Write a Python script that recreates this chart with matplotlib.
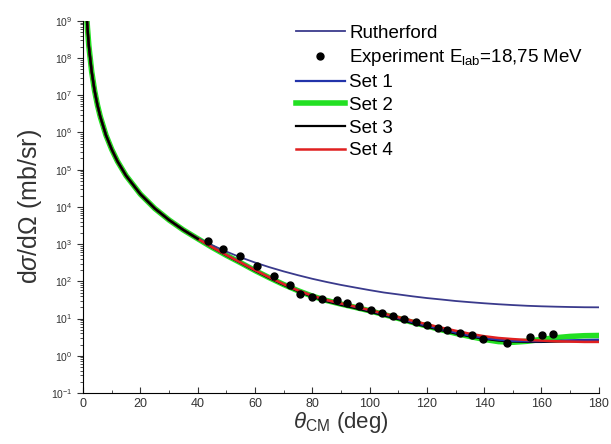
import matplotlib
matplotlib.use("Agg")
import matplotlib.pyplot as plt
import numpy as np
from matplotlib.ticker import LogLocator, LogFormatterMathtext, MultipleLocator, NullFormatter

plt.rcParams.update({
    "font.family": ["Liberation Sans", "DejaVu Sans"],
    "mathtext.fontset": "custom",
    "mathtext.rm": "Liberation Sans",
    "mathtext.it": "Liberation Sans:italic",
    "mathtext.bf": "Liberation Sans:bold",
})

# angles (deg) for the curves
theta = [1.3, 1.5, 2, 3, 4, 5, 6, 8, 10, 12, 15, 20, 25, 30, 35, 40, 45, 50, 55, 60,
         65, 70, 75, 80, 85, 90, 95, 100, 105, 110, 115, 120, 125, 130, 135,
         140, 145, 150, 155, 160, 165, 170, 175, 180]

rutherford = [1.2e9, 6.8e8, 2.15e8, 4.3e7, 1.35e7, 5.5e6, 2.67e6, 8.4e5, 3.5e5, 1.68e5,
              6.9e4, 2.2e4, 9100, 4450, 2450, 1460, 940, 630, 440, 320, 240,
              185, 146, 117, 96, 80, 68, 58, 50, 44.5, 39.5, 35.5, 32.5, 29.6,
              27.5, 25.7, 24.2, 23, 22, 21.3, 20.8, 20.4, 20.1, 20]

set1 = [1.2e9, 6.8e8, 2.15e8, 4.3e7, 1.35e7, 5.5e6, 2.67e6, 8.4e5, 3.5e5, 1.68e5,
        6.9e4, 2.2e4, 9100, 4450, 2400, 1400, 830, 510, 320, 200, 128, 84,
        57, 41, 31, 25, 20.5, 16.5, 13, 10.3, 8.0, 6.4, 5.2, 4.2, 3.5, 3.0,
        2.7, 2.5, 2.45, 2.45, 2.5, 2.6, 2.65, 2.7]

set2 = [1.2e9, 6.8e8, 2.15e8, 4.3e7, 1.35e7, 5.5e6, 2.67e6, 8.4e5, 3.5e5, 1.68e5,
        6.9e4, 2.2e4, 9100, 4450, 2400, 1400, 820, 500, 315, 195, 125, 82,
        56, 40, 30.5, 24.5, 20, 16.2, 12.8, 10.1, 7.9, 6.3, 5.0, 4.0, 3.3,
        2.75, 2.4, 2.3, 2.45, 2.75, 3.05, 3.3, 3.45, 3.5]

set3 = [1.2e9, 6.8e8, 2.15e8, 4.3e7, 1.35e7, 5.5e6, 2.67e6, 8.4e5, 3.5e5, 1.68e5,
        6.9e4, 2.2e4, 9100, 4450, 2400, 1390, 815, 495, 310, 192, 122, 80,
        54, 38.5, 29, 23.2, 19, 15.3, 12.1, 9.6, 7.5, 6.0, 4.85, 3.95, 3.3,
        2.85, 2.55, 2.4, 2.35, 2.35, 2.4, 2.45, 2.45, 2.45]

set4 = [1.2e9, 6.8e8, 2.15e8, 4.3e7, 1.35e7, 5.5e6, 2.67e6, 8.4e5, 3.5e5, 1.68e5,
        6.9e4, 2.2e4, 9100, 4450, 2400, 1400, 830, 510, 320, 200, 128, 84,
        57, 41, 31.5, 25.5, 21, 17, 13.6, 10.9, 8.7, 7.0, 5.7, 4.7, 3.9, 3.35,
        3.0, 2.8, 2.65, 2.55, 2.45, 2.4, 2.35, 2.35]

# experimental points
exp_theta = [43.6, 48.8, 54.8, 60.7, 66.6, 72.2, 75.7, 79.9, 83.5, 88.6, 92.1,
             96.3, 100.5, 104.3, 108.1, 112.0, 116.2, 120.0, 123.8, 127.0,
             131.5, 135.7, 139.5, 147.9, 155.9, 160.1, 163.9]
exp_sigma = [1230, 740, 480, 260, 140, 80, 46, 39, 33, 31, 26, 22, 17, 14,
             11.8, 9.8, 8.1, 6.7, 5.6, 4.9, 4.1, 3.6, 2.8, 2.2, 3.2, 3.6, 3.9]

fig = plt.figure(figsize=(6.11, 4.44), dpi=100)
ax = fig.add_axes([0.136, 0.115, 0.844, 0.838])

ax.plot(theta, rutherford, color="#3a3a8c", lw=1.3, label="Rutherford", zorder=3)
ax.plot(exp_theta, exp_sigma, "o", color="black", ms=5,
        label=r"Experiment E$_{\rm lab}$=18,75 MeV", zorder=6)
ax.plot(theta, set2, color="#22e022", lw=4, label="Set 2", zorder=2)
ax.plot(theta, set3, color="black", lw=1.6, label="Set 3", zorder=3)
ax.plot(theta, set1, color="#2233aa", lw=1.6, label="Set 1", zorder=4)
ax.plot(theta, set4, color="#e02020", lw=1.8, label="Set 4", zorder=4)
# black on top where all sets coincide at forward angles
ax.plot(theta[:16], set3[:16], color="black", lw=1.8, zorder=5)

ax.set_yscale("log")
ax.set_xlim(0, 180)
ax.set_ylim(1e-1, 1e9)

ax.xaxis.set_major_locator(MultipleLocator(20))
ax.xaxis.set_minor_locator(MultipleLocator(10))
ax.yaxis.set_major_locator(LogLocator(base=10, numticks=20))
ax.yaxis.set_minor_locator(LogLocator(base=10, subs=np.arange(2, 10), numticks=20))
ax.yaxis.set_major_formatter(LogFormatterMathtext())
ax.yaxis.set_minor_formatter(NullFormatter())

ax.tick_params(axis="x", which="both", direction="in", labelsize=9, colors="#333333")
ax.tick_params(axis="x", which="major", length=4)
ax.tick_params(axis="x", which="minor", length=2.5)
ax.tick_params(axis="y", which="both", direction="out", labelsize=7.5, colors="#333333")
ax.tick_params(axis="y", which="major", length=4)
ax.tick_params(axis="y", which="minor", length=2)

for s in ["top", "right"]:
    ax.spines[s].set_visible(False)

ax.set_ylabel(r"d$\sigma$/d$\Omega$ (mb/sr)", fontsize=18, color="#333333", labelpad=5)
ax.set_xlabel(r"$\theta_{\rm CM}$ (deg)", fontsize=16, color="#333333", labelpad=0)

handles, labels = ax.get_legend_handles_labels()
order = ["Rutherford", r"Experiment E$_{\rm lab}$=18,75 MeV", "Set 1", "Set 2", "Set 3", "Set 4"]
hmap = dict(zip(labels, handles))
ax.legend([hmap[l] for l in order], order, loc="upper left",
          bbox_to_anchor=(0.38, 1.035), frameon=False, fontsize=13.5,
          handlelength=2.6, handletextpad=0.25, labelspacing=0.3)

fig.savefig("out.png", dpi=100)
